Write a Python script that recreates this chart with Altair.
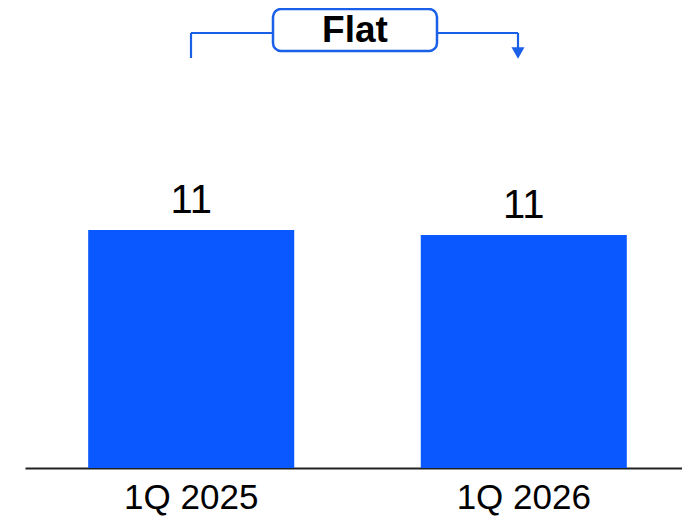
import altair as alt
import pandas as pd

quarters = ["1Q 2025", "1Q 2026"]
values = [11.2, 10.97]
labels = ["11", "11"]
annotation_text = "Flat"

BLUE = "#0A58FF"
LINE_BLUE = "#1A5FE8"

df = pd.DataFrame({"quarter": quarters, "value": values, "label": labels})

x = alt.X("quarter:N", sort=quarters,
          scale=alt.Scale(paddingInner=0.3805, paddingOuter=0.19, range=[0, 665]),
          axis=alt.Axis(title=None, labelAngle=0, ticks=False, grid=False,
                        labelFontSize=35, labelFont="Liberation Sans",
                        labelColor="#000000", labelPadding=12,
                        domainColor="#222222", domainWidth=2))
y = alt.Y("value:Q", scale=alt.Scale(domain=[0, 21.65], nice=False), axis=None)

base = alt.Chart(df)
bars = base.mark_bar(color=BLUE).encode(x=x, y=y)
text = base.mark_text(fontSize=40, font="Liberation Sans", color="#000000",
                      baseline="alphabetic", dy=-17).encode(x=x, y=y, text="label:N")

one = pd.DataFrame({"t": [annotation_text]})
ann = alt.Chart(one)
rule_kw = dict(color=LINE_BLUE, strokeWidth=2.2)
left_v = ann.mark_rule(**rule_kw).encode(x=alt.value(166), y=alt.value(25), y2=alt.value(50))
left_h = ann.mark_rule(**rule_kw).encode(x=alt.value(166), x2=alt.value(248), y=alt.value(25))
right_h = ann.mark_rule(**rule_kw).encode(x=alt.value(412), x2=alt.value(493), y=alt.value(25))
right_v = ann.mark_rule(**rule_kw).encode(x=alt.value(493), y=alt.value(25), y2=alt.value(42))
arrow = ann.mark_point(shape="triangle-down", filled=True, color=LINE_BLUE, size=170, opacity=1).encode(
    x=alt.value(493), y=alt.value(45))
box = ann.mark_rect(fill="white", stroke=LINE_BLUE, strokeWidth=2.5, cornerRadius=8).encode(
    x=alt.value(248), x2=alt.value(412), y=alt.value(1), y2=alt.value(43))
box_text = ann.mark_text(fontSize=37, fontWeight="bold", font="Liberation Sans", color="#000000",
                         baseline="middle", align="center").encode(
    x=alt.value(330), y=alt.value(23), text="t:N")

chart = alt.layer(bars, text, left_v, left_h, right_h, right_v, arrow, box, box_text).properties(
    width=657, height=460,
    background="white",
    autosize=alt.AutoSizeParams(type="none"),
    padding={"left": 17, "top": 0, "right": 0, "bottom": 50},
).configure_view(strokeWidth=0, stroke="transparent")

chart.save("out.html", embed_options={"renderer": "svg", "actions": False})
